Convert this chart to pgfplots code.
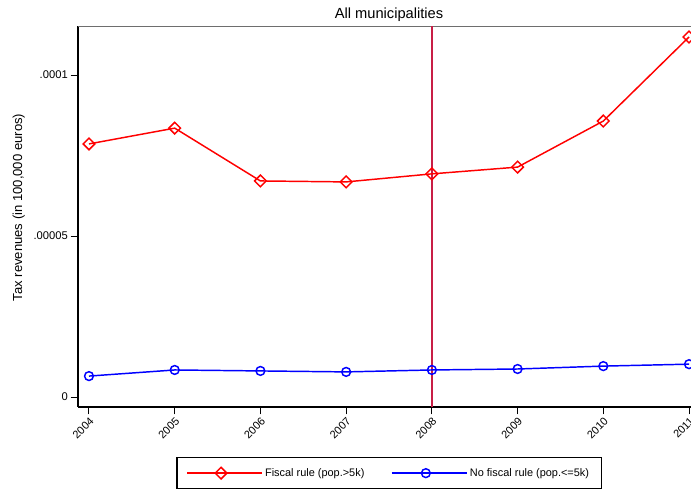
\documentclass[border=0pt]{standalone}
\usepackage{fontspec}
\setmainfont{Liberation Sans}
\usepackage{pgfplots}
\pgfplotsset{compat=1.18}
\definecolor{vline}{RGB}{200,30,70}
\definecolor{topgray}{RGB}{110,110,110}
\begin{document}
\begin{tikzpicture}
\begin{axis}[
  at={(0,0)}, anchor=south west,
  scale only axis,
  width=466.5pt, height=285.75pt,
  xmin=2003.872, xmax=2011.128,
  ymin=-3.1e-6, ymax=1.1522e-4,
  axis lines*=left,
  axis line style={-},
  x axis line style={line width=1.1pt, black},
  y axis line style={line width=1.5pt, black},
  xtick={2004,2005,2006,2007,2008,2009,2010,2011},
  xticklabels={2004,2005,2006,2007,2008,2009,2010,2011},
  ytick={0,0.00005,0.0001},
  yticklabels={0,.00005,.0001},
  scaled y ticks=false,
  scaled x ticks=false,
  tick align=outside,
  major tick length=5.5pt,
  tick style={black, line width=0.75pt},
  xticklabel style={rotate=45, anchor=north east, font=\fontsize{8.2}{9}\selectfont, inner sep=1.2pt},
  yticklabel style={font=\fontsize{8.4}{9}\selectfont, inner sep=2pt},
  title={All municipalities},
  every axis title/.style={at={(0.5,1)}, anchor=base, yshift=5.5pt, font=\fontsize{11}{12}\selectfont},
  ylabel={Tax revenues (in 100,000 euros)},
  ylabel style={at={(axis description cs:-0.090,0.5236)}, anchor=base, font=\fontsize{9.8}{11}\selectfont},
  legend columns=2,
  legend style={at={(0.5,-0.1312)}, anchor=north, draw=black, line width=0.8pt,
    font=\fontsize{8.2}{10}\selectfont, inner xsep=7pt, inner ysep=6pt,
    /tikz/every even column/.append style={column sep=18pt}},
  legend cell align=left,
  legend image code/.code={\draw[mark repeat=2,mark phase=2,#1] plot coordinates {(0pt,0pt) (25.5pt,0pt) (51pt,0pt)};\path (0pt,0pt) -- (56pt,0pt);},
]
\draw[topgray, line width=0.7pt] (rel axis cs:0,1) -- (rel axis cs:1,1);
\addplot[vline, line width=1.1pt, forget plot] coordinates {(2008,-3.1e-6) (2008,1.1522e-4)};
\addplot[red, line width=1.1pt, mark=square, mark size=3.1pt, mark options={solid, rotate=45, line width=1.1pt, fill=none}]
  coordinates {(2004,7.86e-5) (2005,8.35e-5) (2006,6.71e-5) (2007,6.68e-5) (2008,6.93e-5) (2009,7.14e-5) (2010,8.57e-5) (2011,1.118e-4)};
\addlegendentry{Fiscal rule (pop.>5k)}
\addplot[blue, line width=1.1pt, mark=o, mark size=3.3pt, mark options={solid, line width=1.1pt}]
  coordinates {(2004,6.5e-6) (2005,8.4e-6) (2006,8.1e-6) (2007,7.8e-6) (2008,8.4e-6) (2009,8.7e-6) (2010,9.6e-6) (2011,1.02e-5)};
\addlegendentry{No fiscal rule (pop.<=5k)}
\end{axis}
\pgfresetboundingbox
\useasboundingbox (-58.5pt,-63pt) rectangle (459.75pt,305.25pt);
\end{tikzpicture}
\end{document}
